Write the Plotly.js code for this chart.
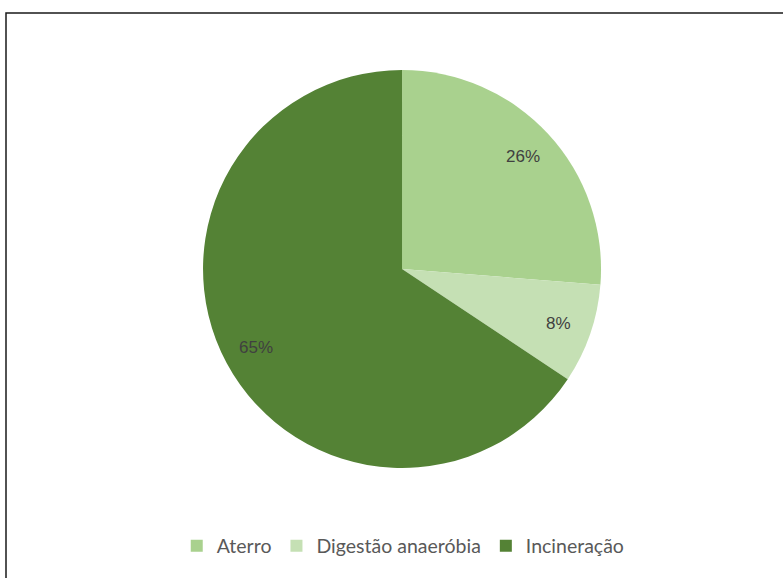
<!DOCTYPE html>
<html>
<head>
<meta charset="utf-8">
<script src="https://cdn.plot.ly/plotly-3.0.1.min.js"></script>
<style>
  body { margin: 0; padding: 0; background: #fff; }
  #plot { width: 783px; height: 578px; }
</style>
</head>
<body>
<div id="plot"></div>
<script>
// destino dos residuos (%)
var categorias = ["Aterro", "Digestão anaeróbia", "Incineração"];
var valores = [26, 8, 65];
var cores = ["#A9D18E", "#C5E0B4", "#548235"];

var W = 783, H = 578;
var dom = {x: [0.2593, 0.7676], y: [0.1903, 0.8789]};

// rótulos como no Excel: no ângulo médio de cada fatia, a ~83% do raio
var raio = Math.min((dom.x[1] - dom.x[0]) * W, (dom.y[1] - dom.y[0]) * H) / 2;
var cx = (dom.x[0] + dom.x[1]) / 2, cy = (dom.y[0] + dom.y[1]) / 2;
var total = valores.reduce(function (a, b) { return a + b; }, 0);
var acum = 0;
var rotulos = valores.map(function (v) {
  var ang = (acum + v / 2) / total * 2 * Math.PI;
  acum += v;
  var r = raio * 0.83;
  return {
    xref: 'paper', yref: 'paper',
    x: cx + r * Math.sin(ang) / W,
    y: cy + r * Math.cos(ang) / H,
    xanchor: 'center', yanchor: 'middle',
    text: v + '%',
    showarrow: false,
    font: {family: 'Liberation Sans, Arial, sans-serif', size: 17, color: '#404040'}
  };
});

var data = [{
  type: 'pie',
  labels: categorias,
  values: valores,
  sort: false,
  direction: 'clockwise',
  rotation: 0,
  marker: {colors: cores, line: {width: 0}},
  textinfo: 'none',
  hoverinfo: 'label+value',
  domain: dom
}];

var layout = {
  width: W,
  height: H,
  margin: {l: 0, r: 0, t: 0, b: 0},
  paper_bgcolor: '#fff',
  showlegend: true,
  legend: {
    orientation: 'h',
    x: 0.515, xanchor: 'center',
    y: 0.0554, yanchor: 'middle',
    font: {family: 'Lato, Open Sans, sans-serif', size: 19.5, color: '#595959'},
    itemwidth: 30
  },
  annotations: rotulos,
  shapes: [{
    type: 'rect', xref: 'paper', yref: 'paper',
    x0: 6 / W, x1: 1.05, y0: -0.05, y1: 1 - 13 / H,
    line: {color: '#1a1a1a', width: 1.5}
  }]
};

Plotly.newPlot('plot', data, layout, {displayModeBar: false});
</script>
</body>
</html>
